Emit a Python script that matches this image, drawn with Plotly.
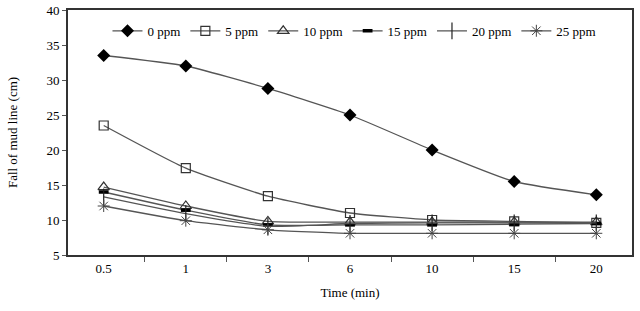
import plotly.graph_objects as go

times = ["0.5", "1", "3", "6", "10", "15", "20"]
ppm_0 = [33.5, 32.0, 28.8, 25.0, 20.0, 15.5, 13.6]
ppm_5 = [23.5, 17.4, 13.4, 11.0, 10.0, 9.8, 9.6]
ppm_10 = [14.7, 12.0, 9.8, 9.7, 9.7, 9.7, 9.7]
ppm_15 = [14.0, 11.4, 9.3, 9.3, 9.3, 9.4, 9.5]
ppm_20 = [13.3, 10.9, 9.1, 9.5, 9.6, 9.6, 9.6]
ppm_25 = [12.0, 9.9, 8.6, 8.1, 8.1, 8.1, 8.1]

series_names = ["0 ppm", "5 ppm", "10 ppm", "15 ppm", "20 ppm", "25 ppm"]
series_values = [ppm_0, ppm_5, ppm_10, ppm_15, ppm_20, ppm_25]

styles = [
    dict(symbol="diamond", size=10, color="black", line=dict(width=0, color="black")),
    dict(symbol="square-open", size=9, color="#333333", line=dict(width=1.2, color="#333333")),
    dict(symbol="triangle-up-open", size=10, color="#333333", line=dict(width=1.2, color="#333333")),
    dict(symbol="line-ew-open", size=7, color="black", line=dict(width=3.5, color="black")),
    dict(symbol="line-ns-open", size=12, color="#222222", line=dict(width=1.2, color="#222222")),
    dict(symbol="asterisk-open", size=10, color="#444444", line=dict(width=1, color="#444444")),
]

fig = go.Figure()
for name, vals, st in zip(series_names, series_values, styles):
    fig.add_trace(go.Scatter(
        x=times, y=vals, name=name, mode="lines+markers",
        line=dict(color="#555555", width=1.3, shape="spline", smoothing=0.5),
        marker=st,
    ))

font_family = "Liberation Serif"
fig.update_layout(
    width=640, height=311,
    margin=dict(l=68, r=8, t=10, b=56, autoexpand=False),
    paper_bgcolor="white", plot_bgcolor="white",
    font=dict(family=font_family, size=13, color="black"),
    showlegend=True,
    legend=dict(orientation="h", x=0.07, y=0.915, xanchor="left", yanchor="middle",
                bgcolor="rgba(0,0,0,0)", font=dict(size=13, family=font_family),
                itemwidth=30, tracegroupgap=0),
    xaxis=dict(
        type="category", showgrid=False, zeroline=False, automargin=False,
        showline=True, linecolor="#333333", linewidth=2, mirror=True,
        ticks="outside", tickson="boundaries", ticklen=5, tickcolor="#555555",
        title=dict(text="Time (min)", font=dict(size=13), standoff=13),
        tickfont=dict(size=13),
    ),
    yaxis=dict(
        range=[5, 40], dtick=5, showgrid=False, zeroline=False, automargin=False,
        showline=True, linecolor="#333333", linewidth=2, mirror=True,
        ticks="outside", ticklen=4, tickcolor="#555555",
        title=dict(text="Fall of mud line (cm)", font=dict(size=13), standoff=26),
        tickfont=dict(size=13),
    ),
)

fig.write_html(
    "out.html",
    config={"displayModeBar": False},
    post_script="document.body.style.margin='0';document.body.style.overflow='hidden';",
)
